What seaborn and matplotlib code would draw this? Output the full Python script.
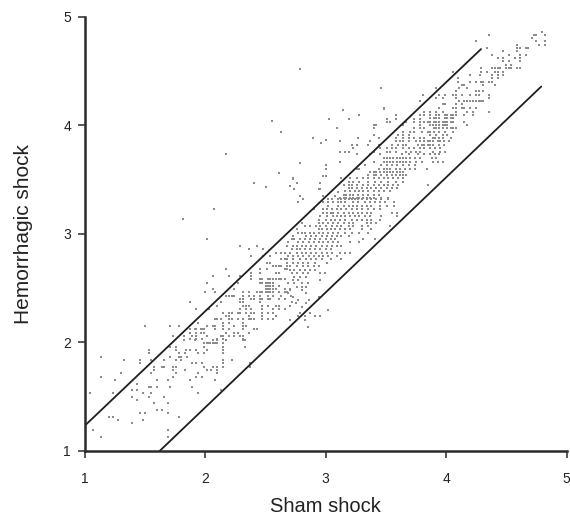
import matplotlib
matplotlib.use("Agg")
import matplotlib.pyplot as plt
import pandas as pd
import seaborn as sns

# each hem_* list holds the row levels, sham_* the x values on that row
hem_low = [1.13, 1.19, 1.255, 1.286, 1.316, 1.347, 1.378, 1.439, 1.47, 1.50, 1.53, 1.56, 1.59, 1.62, 1.65, 1.685,
           1.715, 1.746, 1.777, 1.807, 1.838, 1.869, 1.90, 1.93, 1.96, 1.99, 2.02]
sham_low = [
    [1.13, 1.69], [1.07, 1.69], [1.39], [1.27, 1.48], [1.20, 1.23, 1.78], [1.46, 1.50, 1.69], [1.60, 1.64],
    [1.57, 1.69], [1.43], [1.39, 1.53, 1.66], [1.04, 1.23, 1.48, 1.55, 1.94], [1.39, 1.43, 2.13],
    [1.53, 1.55, 1.60, 1.71, 1.89], [1.43], [1.25, 1.60, 1.69, 1.87, 2.08], [1.13, 1.73, 1.92, 1.97],
    [1.30, 1.55, 1.76, 1.94, 2.10], [1.57, 1.73, 1.83, 2.01, 2.05, 2.10], [1.57, 1.64, 1.66, 1.73, 1.76, 1.99, 2.06, 2.10, 2.15, 2.37],
    [1.46, 1.89, 1.92, 1.97, 2.15, 2.37], [1.32, 1.46, 1.55, 1.66, 1.76, 1.80, 2.15, 2.22], [1.13, 1.71, 1.78, 1.80, 1.85],
    [1.53, 1.78, 1.83, 1.94, 1.99, 2.15], [1.53, 1.76, 1.84, 1.87, 1.92, 2.01, 2.15], [1.71, 1.76, 1.99, 2.15, 2.33],
    [1.99, 2.01, 2.03, 2.04, 2.06, 2.08, 2.10, 2.15], [1.82, 1.91, 2.06, 2.10, 2.17, 2.31, 2.33],
]

hem_mid = [2.03, 2.06, 2.09, 2.12, 2.15, 2.18, 2.213, 2.243, 2.274, 2.305, 2.335, 2.37, 2.40, 2.43, 2.46, 2.49, 2.52,
           2.55, 2.58, 2.61, 2.64, 2.673, 2.70, 2.734, 2.765, 2.796, 2.826, 2.857, 2.888, 2.95]
sham_mid = [
    [1.87, 1.92, 1.97, 2.10, 2.15, 2.31],
    [1.73, 1.82, 1.89, 1.92, 2.01, 2.13, 2.15, 2.20, 2.24, 2.29, 2.31],
    [1.87, 1.92, 1.96, 1.99, 2.17, 2.24, 2.27, 2.36],
    [1.87, 1.91, 1.92, 1.96, 1.97, 1.99, 2.08, 2.15, 2.20, 2.31, 2.40, 2.43],
    [1.50, 1.71, 1.78, 2.01, 2.06, 2.08, 2.15, 2.24, 2.31, 2.34],
    [1.94, 2.15, 2.20, 2.31],
    [2.08, 2.10, 2.13, 2.20, 2.22, 2.27, 2.31, 2.36, 2.38, 2.40, 2.47, 2.52, 2.56],
    [2.17, 2.20, 2.36, 2.47, 2.59],
    [2.15, 2.20, 2.22, 2.27, 2.29, 2.34, 2.38, 2.40, 2.47, 2.52, 2.56],
    [1.92, 2.03, 2.29, 2.34, 2.38, 2.47, 2.56, 2.61, 2.66],
    [2.10, 2.31, 2.34, 2.36, 2.47, 2.52, 2.59, 2.61, 2.70],
    [1.87, 2.13, 2.29, 2.31, 2.45, 2.72],
    [2.29, 2.31, 2.38, 2.40, 2.45, 2.47, 2.52, 2.54, 2.61, 2.66],
    [2.17, 2.20, 2.22, 2.24, 2.31, 2.36, 2.40, 2.45, 2.52, 2.56, 2.63, 2.71],
    [2.00, 2.08, 2.31, 2.36, 2.43, 2.45, 2.47, 2.50, 2.52, 2.54, 2.56, 2.61, 2.66, 2.68],
    [2.06, 2.24, 2.50, 2.52, 2.54, 2.56, 2.59, 2.66, 2.70],
    [2.50, 2.52, 2.54, 2.56, 2.61],
    [2.01, 2.27, 2.45, 2.47, 2.50, 2.52, 2.54, 2.56],
    [2.38, 2.45, 2.47, 2.52, 2.54, 2.56, 2.59, 2.61, 2.63, 2.66],
    [2.06, 2.20, 2.29, 2.38],
    [2.38, 2.45, 2.59, 2.61],
    [2.17, 2.45, 2.515, 2.66, 2.68],
    [2.56, 2.59, 2.61, 2.63, 2.68],
    [2.515, 2.54, 2.68],
    [2.63, 2.66],
    [2.38, 2.48, 2.54],
    [2.59, 2.63, 2.66],
    [2.36, 2.48],
    [2.29, 2.43],
    [2.01],
]

hem_band = [2.145, 2.207, 2.24, 2.27, 2.30, 2.33, 2.36, 2.39, 2.42, 2.45, 2.48, 2.51, 2.544, 2.575, 2.605, 2.636, 2.667, 2.70, 2.73]
sham_band = [
    [2.85], [2.70, 2.83], [2.77, 2.83, 2.91, 2.95], [2.79, 2.87], [3.02], [2.80], [2.75, 2.84], [2.77, 2.86],
    [2.73, 2.94], [2.69, 2.84],
    [2.70, 2.80], [2.76, 2.80, 2.84], [2.69, 2.74, 2.80, 2.85], [2.73, 2.77, 2.95], [2.74, 2.79, 2.84],
    [2.72, 2.76, 2.81, 2.85, 2.95, 2.99], [2.70, 2.74, 2.79, 2.83, 2.87, 2.91], [2.70, 2.76, 2.81, 2.85, 2.90, 2.94],
    [2.73, 2.77, 2.81, 2.85, 2.91, 3.01],
]

hem_core = [2.765, 2.796, 2.826, 2.857, 2.89, 2.92, 2.95, 2.98, 3.01, 3.04, 3.07, 3.10, 3.13, 3.16, 3.195, 3.225,
            3.256, 3.29, 3.32, 3.35, 3.38, 3.41, 3.44, 3.47, 3.50, 3.53, 3.56]
sham_core = [
    [2.68, 2.73, 2.79, 2.84, 2.88, 2.92, 2.97, 3.04, 3.13],
    [2.69, 2.73, 2.77, 2.81, 2.86, 2.90, 2.94, 2.98, 3.02, 3.09],
    [2.70, 2.76, 2.80, 2.84, 2.88, 2.92, 2.97, 3.01, 3.05, 3.12, 3.16, 3.20],
    [2.72, 2.76, 2.79, 2.83, 2.87, 2.91, 2.95, 3.00, 3.04],
    [2.68, 2.73, 2.76, 2.80, 2.84, 2.88, 2.92, 2.97, 3.01, 3.05, 3.09, 3.13],
    [2.69, 2.77, 2.81, 2.86, 2.90, 2.94, 2.98, 3.02, 3.06, 3.10, 3.20, 3.28],
    [2.72, 2.74, 2.79, 2.83, 2.87, 2.91, 2.95, 3.00, 3.04, 3.08, 3.31, 3.41],
    [2.73, 2.84, 2.88, 2.92, 2.97, 3.01, 3.05, 3.09, 3.13, 3.19],
    [2.77, 2.80, 2.83, 2.87, 2.90, 2.94, 2.98, 3.02, 3.06, 3.10, 3.16, 3.22, 3.28, 3.35],
    [2.76, 2.94, 2.97, 3.01, 3.04, 3.08, 3.12, 3.16, 3.20, 3.30, 3.38],
    [2.83, 2.87, 2.92, 2.95, 3.00, 3.05, 3.09, 3.13, 3.19, 3.23, 3.30, 3.35, 3.53],
    [2.80, 2.94, 2.98, 3.02, 3.06, 3.10, 3.15, 3.19, 3.23, 3.34, 3.38, 3.42],
    [2.94, 3.00, 3.04, 3.08, 3.12, 3.16, 3.22, 3.26, 3.30, 3.34, 3.38, 3.45],
    [2.95, 3.01, 3.06, 3.09, 3.13, 3.16, 3.20, 3.24, 3.28, 3.33, 3.37, 3.46, 3.59],
    [2.98, 3.01, 3.04, 3.06, 3.10, 3.15, 3.19, 3.23, 3.27, 3.30, 3.34, 3.38, 3.55, 3.59],
    [2.90, 2.98, 3.01, 3.05, 3.09, 3.13, 3.17, 3.22, 3.26, 3.30, 3.35, 3.40, 3.45],
    [3.02, 3.10, 3.15, 3.19, 3.23, 3.26, 3.30, 3.34, 3.38, 3.45, 3.51, 3.57],
    [2.77, 2.98, 3.02, 3.06, 3.10, 3.13, 3.16, 3.23, 3.27, 3.33, 3.37, 3.41, 3.45, 3.49, 3.57],
    [2.81, 3.02, 3.05, 3.10, 3.13, 3.16, 3.19, 3.22, 3.24, 3.27, 3.30, 3.34, 3.38, 3.42, 3.46, 3.52],
    [2.79, 2.98, 3.08],
    [3.10],
    [2.74, 2.94, 2.95],
    [2.70],
    [2.95],
    [2.73],
    [2.98, 3.00],
    [2.61],
]

hem_upper = [3.33, 3.36, 3.39, 3.42, 3.45, 3.48, 3.51, 3.54, 3.57, 3.60, 3.63, 3.665, 3.695, 3.73, 3.756, 3.79, 3.82,
             3.85, 3.88, 3.91, 3.94, 3.97, 4.0, 4.03, 4.06, 4.09, 4.125, 4.155, 4.22]
sham_upper = [
    [3.12, 3.15, 3.17, 3.20, 3.23, 3.26, 3.28, 3.31, 3.34, 3.37, 3.40, 3.46, 3.52],
    [3.15, 3.17, 3.20, 3.23, 3.27, 3.31, 3.35, 3.40, 3.44],
    [3.16, 3.20, 3.24, 3.28, 3.31, 3.35, 3.40, 3.44, 3.48, 3.53],
    [3.19, 3.22, 3.26, 3.30, 3.34, 3.38, 3.42, 3.46, 3.51, 3.55, 3.59],
    [3.15, 3.19, 3.22, 3.26, 3.31, 3.35, 3.40, 3.44, 3.48, 3.52, 3.56, 3.60, 3.85],
    [3.19, 3.23, 3.28, 3.35, 3.41, 3.46, 3.52, 3.58, 3.64],
    [3.13, 3.20, 3.26, 3.31, 3.35, 3.40, 3.44, 3.48, 3.52, 3.56, 3.60, 3.64],
    [3.35, 3.40, 3.42, 3.46, 3.51, 3.55, 3.58, 3.62, 3.64, 3.67],
    [3.37, 3.40, 3.42, 3.45, 3.48, 3.51, 3.53, 3.56, 3.59, 3.62, 3.64],
    [3.26, 3.28, 3.44, 3.48, 3.51, 3.53, 3.58, 3.62, 3.66, 3.70, 3.74, 3.84],
    [3.33, 3.46, 3.51, 3.55, 3.59, 3.64, 3.69, 3.74],
    [3.12, 3.40, 3.48, 3.51, 3.53, 3.56, 3.59, 3.62, 3.64, 3.67, 3.70, 3.75, 3.80, 3.89, 3.93, 3.97],
    [3.48, 3.51, 3.53, 3.56, 3.59, 3.62, 3.64, 3.67, 3.70, 3.74, 3.78, 3.88, 3.92],
    [3.26, 3.37, 3.45, 3.63, 3.69, 3.77, 3.82, 3.87, 3.91, 3.94],
    [3.12, 3.16, 3.19, 3.40, 3.51, 3.53, 3.58, 3.67, 3.71, 3.75, 3.78, 3.89, 3.95, 3.99],
    [3.23, 3.45, 3.51, 3.55, 3.58, 3.64, 3.69, 3.73, 3.78, 3.82, 3.87, 3.91, 3.95],
    [3.26, 3.35, 3.44, 3.55, 3.60, 3.64, 3.67, 3.77, 3.80, 3.82, 3.85, 3.87, 3.89, 3.94, 3.98],
    [3.12, 3.37, 3.58, 3.62, 3.64, 3.69, 3.75, 3.78, 3.82, 3.85, 3.87, 3.89, 3.93, 3.95, 3.98, 4.02],
    [3.27, 3.44, 3.58, 3.64, 3.69, 3.73, 3.78, 3.82, 3.89, 3.91, 3.94, 3.97, 4.04],
    [3.40, 3.60, 3.64, 3.69, 3.87, 3.92, 3.97, 4.01],
    [3.64, 3.70, 3.73, 3.80, 3.85, 3.87, 3.90, 3.94, 3.99, 4.06],
    [3.40, 3.73, 3.78, 3.82],
    [3.40, 3.42, 3.64, 3.78],
    [3.51, 3.53, 3.67, 3.73, 3.78, 3.82, 3.85],
    [3.51, 3.58, 3.73, 3.78],
    [3.58, 3.78, 3.82],
    [3.82],
    [3.48],
    [3.78],
]

hem_top = [3.97, 4.00, 4.03, 4.065, 4.095, 4.125, 4.16, 4.19, 4.22, 4.25, 4.28, 4.31, 4.34, 4.37, 4.40, 4.43, 4.46,
           4.49, 4.525, 4.555, 4.59, 4.62, 4.65, 4.68, 4.71, 4.74, 4.77, 4.80, 4.83, 4.86]
sham_top = [
    [3.90, 3.92, 3.94, 3.97, 4.01, 4.04, 4.06, 4.08],
    [3.87, 3.89, 3.92, 3.94, 3.97, 3.99, 4.01, 4.17],
    [3.87, 3.90, 3.92, 3.94, 3.97, 3.99, 4.01, 4.04, 4.06, 4.15],
    [3.87, 3.90, 3.92, 3.94, 3.99, 4.01, 4.04, 4.06],
    [3.87, 3.92, 3.94, 3.99, 4.01, 4.04, 4.06, 4.08, 4.15, 4.22],
    [3.87, 3.92, 3.97, 4.08, 4.17, 4.22, 4.36],
    [3.94, 4.06, 4.08, 4.13, 4.15, 4.20, 4.25],
    [3.97, 3.99, 4.08, 4.13],
    [4.11, 4.15, 4.17, 4.20, 4.22, 4.25, 4.27, 4.29, 4.31],
    [3.92, 3.97, 4.08, 4.36],
    [3.81, 3.94, 3.99, 4.06, 4.08, 4.13, 4.20, 4.25, 4.27, 4.36],
    [4.08, 4.25, 4.27, 4.31],
    [3.92, 4.11, 4.17],
    [4.13, 4.15, 4.31, 4.41],
    [4.10, 4.20, 4.25, 4.29, 4.31, 4.36, 4.38],
    [4.10, 4.38, 4.43],
    [4.20, 4.28, 4.38, 4.43, 4.47],
    [4.06, 4.29, 4.34, 4.41, 4.43, 4.47],
    [4.29, 4.38, 4.41, 4.43, 4.45, 4.50, 4.52, 4.54, 4.59, 4.61],
    [4.50, 4.54],
    [4.47, 4.52, 4.61],
    [4.43, 4.47, 4.57, 4.61],
    [4.38, 4.52, 4.61, 4.66],
    [4.47, 4.59],
    [4.34, 4.59, 4.61, 4.66, 4.68],
    [4.59, 4.77, 4.82],
    [4.25, 4.75, 4.82],
    [4.71],
    [4.36, 4.73, 4.75, 4.82],
    [4.80],
]

sham_out = [2.79, 2.55, 2.17, 1.81, 2.07, 2.40, 2.50, 2.79, 2.96, 3.00, 3.14, 3.28, 3.22, 2.76, 3.46, 3.48, 3.03, 3.19,
            3.09, 2.63, 2.89, 3.12, 3.00, 3.00, 2.73, 2.74, 2.79, 2.77]
hem_out = [4.52, 4.04, 3.73, 3.14, 3.23, 3.47, 3.43, 3.65, 3.84, 3.86, 4.14, 4.09, 3.82, 3.47, 4.34, 4.15, 4.06, 4.06,
           3.97, 3.94, 3.88, 3.85, 3.63, 3.60, 3.51, 3.41, 3.35, 3.29]

# the two limit lines
sham_limit_high = [1.0, 4.29]
hem_limit_high = [1.235, 4.70]
sham_limit_low = [1.62, 4.79]
hem_limit_low = [1.0, 4.355]

ticks = [1, 2, 3, 4, 5]

sham, hem = list(sham_out), list(hem_out)
for levels, rows in [(hem_low, sham_low), (hem_mid, sham_mid), (hem_band, sham_band),
                     (hem_core, sham_core), (hem_upper, sham_upper), (hem_top, sham_top)]:
    for level, row in zip(levels, rows, strict=True):
        sham += row
        hem += [level] * len(row)
df = pd.DataFrame({"sham": sham, "hem": hem})

sns.set_style("white")
plt.rcParams["font.family"] = ["Liberation Sans", "DejaVu Sans"]

fig = plt.figure(figsize=(5.7, 5.17), dpi=100)
ax = fig.add_axes([85 / 570, 1 - 451 / 517, 481.5 / 570, 434.5 / 517])

sns.scatterplot(data=df, x="sham", y="hem", ax=ax, s=1.3, marker="s", color="#8c8c8c", linewidth=0, clip_on=False)
sns.lineplot(x=sham_limit_high, y=hem_limit_high, ax=ax, color="#1e1e1e", lw=1.3, errorbar=None)
sns.lineplot(x=sham_limit_low, y=hem_limit_low, ax=ax, color="#1e1e1e", lw=1.3, errorbar=None)

ax.set_xlim(1, 5)
ax.set_ylim(1, 5)
ax.set_xticks(ticks)
ax.set_yticks(ticks)
sns.despine(ax=ax)
for side in ["left", "bottom"]:
    ax.spines[side].set_linewidth(1.8)
    ax.spines[side].set_color("#2a2a2a")
ax.tick_params(axis="both", length=5, width=1.1, color="#2a2a2a", labelcolor="#222222", labelsize=10, bottom=True, left=True)
ax.tick_params(axis="x", pad=10)
ax.tick_params(axis="y", pad=5)
ax.set_xlabel("Sham shock", fontsize=14.5, color="#222222", labelpad=8)
ax.set_ylabel("Hemorrhagic shock", fontsize=15, color="#222222", labelpad=22)

fig.savefig("out.png", dpi=100)
